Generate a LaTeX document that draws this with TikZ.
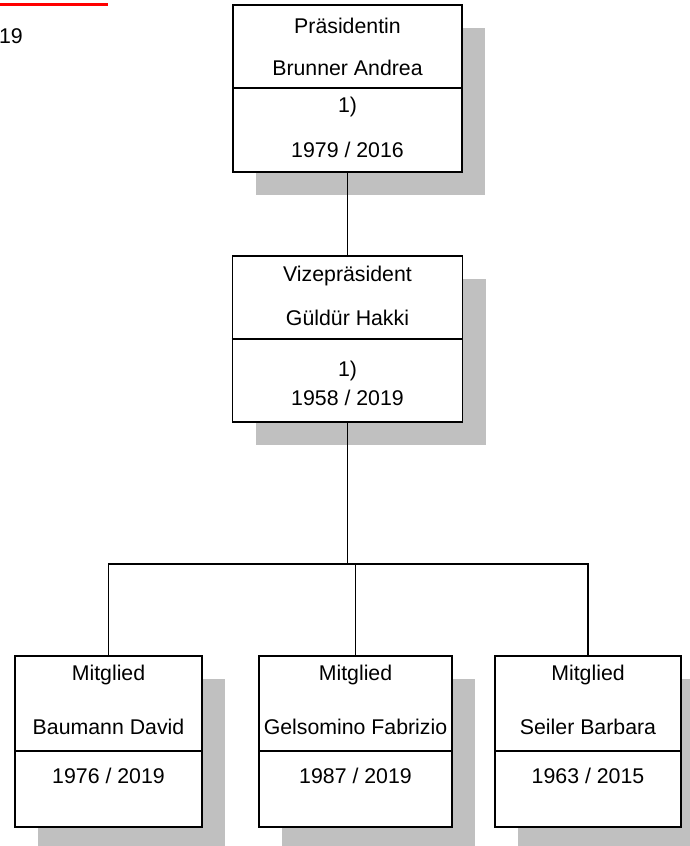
\documentclass[tikz,border=0pt]{standalone}
\usepackage{fontspec}
\setmainfont{Liberation Sans}
\usepackage{tikz}
\usetikzlibrary{positioning, shadows, calc}
\definecolor{shadowgray}{RGB}{192, 192, 192}

\begin{document}
\begin{tikzpicture}[x=1pt, y=1pt, font=\fontsize{21.3}{25}\selectfont,
        box/.style={draw, rectangle, fill=white, line width=1.8pt, inner sep=0pt,
            drop shadow={fill=shadowgray, opacity=1, shadow xshift=23pt, shadow yshift=-23pt}},
        txt/.style={inner sep=0pt, anchor=center},
        link/.style={line width=1.7pt}]
        \useasboundingbox (0,0) rectangle (689,-846);

        % header remains
        \fill[red] (0,-3.3) rectangle (108,-6);
        \node[txt, anchor=base east] (year) at (23,-43) {19};

        % boxes
        \node[box, minimum width=229pt, minimum height=167pt] (pres) at (347.5,-88.5) {};
        \node[box, minimum width=230pt, minimum height=166pt, below=82pt of pres] (vice) {};
        \node[box, minimum width=187pt, minimum height=171pt] (mem1) at (108.5,-741.5) {};
        \node[box, minimum width=193pt, minimum height=171pt] (mem2) at (355.5,-741.5) {};
        \node[box, minimum width=186pt, minimum height=171pt] (mem3) at (588,-741.5) {};

        % texts
        \node[txt, below=22pt of pres.north, anchor=center] (presrole) {Präsidentin};
        \node[txt, below=64pt of pres.north, anchor=center] (presname) {Brunner Andrea};
        \node[txt, below=103pt of pres.north, anchor=center] (presnote) {1)};
        \node[txt, below=146pt of pres.north, anchor=center] (presyear) {1979 / 2016};
        \draw[line width=1.8pt] ([yshift=-84pt]pres.north west) -- ([yshift=-84pt]pres.north east);

        \node[txt, below=21pt of vice.north, anchor=center] (vicerole) {Vizepräsident};
        \node[txt, below=63pt of vice.north, anchor=center] (vicename) {Güldür Hakki};
        \node[txt, below=116pt of vice.north, anchor=center] (vicenote) {1)};
        \node[txt, below=143pt of vice.north, anchor=center] (viceyear) {1958 / 2019};
        \draw[line width=1.8pt] ([yshift=-84pt]vice.north west) -- ([yshift=-84pt]vice.north east);

        \foreach \m/\name/\yr in {mem1/Baumann David/{1976 / 2019}, mem2/Gelsomino Fabrizio/{1987 / 2019}, mem3/Seiler Barbara/{1963 / 2015}} {
            \node[txt, below=20pt of \m.north, anchor=center] (\m role) {Mitglied};
            \node[txt, below=72pt of \m.north, anchor=center] (\m name) {\name};
            \node[txt, below=121pt of \m.north, anchor=center] (\m year) {\yr};
            \draw[line width=1.8pt] ([xshift=2pt, yshift=-96pt]\m.north west) -- ([xshift=-2pt, yshift=-96pt]\m.north east);
        }

        % connectors
        \coordinate (bus) at (0,-564);
        \draw[link] (pres) -- (vice);
        \draw[link] (vice.south) -- (vice.south |- bus);
        \draw[link] (mem1.north) |- (bus -| mem3.north) -- (mem3.north);
        \draw[link] (mem2.north) -- (mem2.north |- bus);
    \end{tikzpicture}
\end{document}
